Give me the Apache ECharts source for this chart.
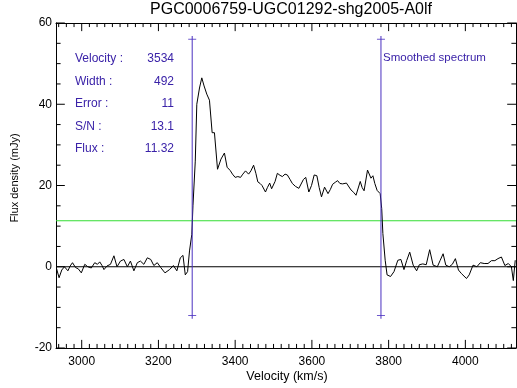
<!DOCTYPE html>
<html><head><meta charset="utf-8">
<script src="https://cdn.jsdelivr.net/npm/echarts@6/dist/echarts.min.js"></script>
<style>html,body{margin:0;padding:0;background:#fff}#c{width:517px;height:388px}</style>
</head><body><div id="c"></div>
<script>
const titleText = 'PGC0006759-UGC01292-shg2005-A0lf';
const xTitle = 'Velocity (km/s)';
const yTitle = 'Flux density (mJy)';
const velocity = [2934,2941,2948,2955,2964,2970,2976,2984,2991,2999,3008,3016,3025,3034,3041,3047,3053,3058,3066,3075,
3084,3092,3101,3110,3119,3127,3136,3145,3153,3162,3171,3180,3188,3197,3206,3217,3229,3239,3248,3257,
3264,3270,3276,3281,3287,3290,3296,3300,3307,3313,3319,3326,3333,3340,3346,3354,3363,3372,3379,3387,
3393,3400,3407,3414,3420,3427,3435,3441,3448,3454,3459,3465,3470,3479,3484,3490,3495,3499,3504,3510,
3517,3523,3530,3536,3543,3549,3557,3566,3571,3578,3584,3592,3599,3606,3613,3619,3625,3633,3642,3648,
3654,3661,3667,3673,3680,3690,3702,3709,3715,3726,3731,3736,3745,3754,3759,3764,3770,3778,3782,3785,
3791,3796,3805,3814,3824,3832,3840,3847,3855,3864,3873,3880,3889,3898,3907,3916,3927,3934,3942,3949,
3958,3966,3974,3982,3990,4003,4010,4020,4030,4039,4049,4059,4068,4077,4085,4094,4103,4112,4120,4125,4130];
const flux = [-0.3,-2.7,-0.8,0.0,-1.0,0.2,1.0,-0.2,-0.5,-1.5,0.6,0.0,-0.3,1.0,0.6,1.2,0.3,-0.7,0.2,0.6,
2.7,0.0,1.4,1.8,0.0,1.4,-1.0,1.0,1.4,0.6,2.2,1.8,0.3,1.0,-0.2,-1.5,-0.7,0.3,-1.0,2.2,
2.8,-2.0,-1.2,3.9,8.0,15.0,26.0,40.0,44.0,46.5,44.5,42.5,41.0,33.0,33.0,24.0,26.5,28.0,24.5,23.7,
22.8,22.0,22.2,22.0,22.8,23.6,22.8,23.6,25.0,23.0,20.9,20.5,20.0,18.4,19.5,20.6,19.2,18.8,21.0,23.0,
22.5,22.2,22.8,22.6,21.5,20.5,19.8,19.3,19.6,21.5,22.0,18.4,20.0,22.6,22.4,19.5,17.2,19.6,18.0,19.0,
20.3,20.8,21.2,20.5,20.4,20.6,18.9,18.3,17.6,21.0,19.5,18.7,23.8,21.8,22.4,20.5,18.8,18.0,14.3,8.2,
1.6,-2.0,-2.4,-1.2,1.6,1.8,-0.7,1.5,3.6,0.4,-1.0,0.5,0.7,0.5,4.2,0.4,0.0,1.5,3.2,0.4,
0.0,0.6,2.0,-0.8,-1.7,-2.9,-2.0,0.4,0.0,1.0,0.8,0.8,1.5,1.5,2.0,2.4,0.3,0.8,0.0,-3.4,1.6];
const xRange = [2933, 4132];
const xTickValues = [3000,3200,3400,3600,3800,4000];
const xMinorValues = [2940,2960,2980,3020,3040,3060,3080,3100,3120,3140,3160,3180,3220,3240,3260,3280,3300,3320,3340,3360,3380,
3420,3440,3460,3480,3500,3520,3540,3560,3580,3620,3640,3660,3680,3700,3720,3740,3760,3780,
3820,3840,3860,3880,3900,3920,3940,3960,3980,4020,4040,4060,4080,4100,4120];
const yRange = [-20, 60];
const yInterval = 20;
const yTickValues = [-20,0,20,40,60];
const yMinorValues = [-15,-10,-5,5,10,15,25,30,35,45,50,55];
const markerVelocities = [3288, 3780];
const markerBottom = -12;
const markerTop = 56;
const fluxLevel = 11.32;
const infoLabels = ['Velocity :','Width :','Error :','S/N :','Flux :'];
const infoValues = ['3534','492','11','13.1','11.32'];
const noteText = 'Smoothed spectrum';

const FONT = 'Liberation Sans';
const PURPLE = '#4a30c0';
const TEXTC = '#3a22a8';
const chart = echarts.init(document.getElementById('c'));

// tick lengths expressed along the perpendicular axis (style only)
const X_MAJOR_LEN = 2.0, X_MINOR_LEN = 1.0;     // in mJy units (~8px / ~4px)
const Y_MAJOR_LEN = 23, Y_MINOR_LEN = 12;       // in km/s units (~9px / ~5px)

function xTickData(values, len){
  const d = [];
  values.forEach(v=>{
    d.push([v, yRange[0]], [v, yRange[0]+len], '-');
    d.push([v, yRange[1]], [v, yRange[1]-len], '-');
  });
  return d;
}
function yTickData(values, len){
  const d = [];
  values.forEach(v=>{
    d.push([xRange[0], v], [xRange[0]+len, v], '-');
    d.push([xRange[1], v], [xRange[1]-len, v], '-');
  });
  return d;
}
function tickLine(data){
  return {type:'line', data:data, symbol:'none', connectNulls:false, clip:false,
    lineStyle:{color:'#000', width:1}, silent:true, z:6};
}

const xAxes = [
  {type:'value', position:'bottom', min:xRange[0], max:xRange[1],
   axisLine:{show:true, onZero:false, lineStyle:{color:'#000',width:1}}, axisTick:{show:false},
   axisLabel:{show:true, customValues:xTickValues, margin:8, color:'#000', fontFamily:FONT, fontSize:12, formatter:(v)=>String(v)},
   splitLine:{show:false}},
  {type:'value', position:'top', min:xRange[0], max:xRange[1],
   axisLine:{show:true, onZero:false, lineStyle:{color:'#000',width:1}}, axisTick:{show:false}, axisLabel:{show:false}, splitLine:{show:false}}
];
const yAxes = [
  {type:'value', position:'left', min:yRange[0], max:yRange[1], interval:yInterval,
   axisLine:{show:true, onZero:false, lineStyle:{color:'#000',width:1}}, axisTick:{show:false},
   axisLabel:{show:true, margin:4, color:'#000', fontFamily:FONT, fontSize:12}, splitLine:{show:false}},
  {type:'value', position:'right', min:yRange[0], max:yRange[1], interval:yInterval,
   axisLine:{show:true, onZero:false, lineStyle:{color:'#000',width:1}}, axisTick:{show:false}, axisLabel:{show:false}, splitLine:{show:false}}
];

const series = [
  {type:'line', data:[[xRange[0],0],[xRange[1],0]], symbol:'none', lineStyle:{color:'#000',width:1}, silent:true},
  {type:'line', data:[[xRange[0],fluxLevel],[xRange[1],fluxLevel]], symbol:'none', lineStyle:{color:'#33dd33',width:1}, silent:true},
  {type:'line', data:velocity.map((v,i)=>[v,flux[i]]), symbol:'none', lineStyle:{color:'#000',width:1}, silent:true},
  tickLine(xTickData(xTickValues, X_MAJOR_LEN)),
  tickLine(xTickData(xMinorValues, X_MINOR_LEN)),
  tickLine(yTickData(yTickValues, Y_MAJOR_LEN)),
  tickLine(yTickData(yMinorValues, Y_MINOR_LEN))
];
markerVelocities.forEach(v=>{
  series.push({type:'line', data:[[v,markerBottom-0.8],[v,markerTop+0.8]], symbol:'none', lineStyle:{color:PURPLE,width:1}, silent:true});
  series.push({type:'scatter', data:[[v,markerBottom],[v,markerTop]], symbol:'rect', symbolSize:[8,1], itemStyle:{color:PURPLE}, silent:true});
});

const graphic = [
  {type:'text', x:291, y:10, style:{text:titleText, fill:'#000', font:'16px "'+FONT+'"', textAlign:'center', textVerticalAlign:'middle'}},
  {type:'text', x:287, y:377, style:{text:xTitle, fill:'#000', font:'12.5px "'+FONT+'"', textAlign:'center', textVerticalAlign:'middle'}},
  {type:'text', x:15, y:178, rotation:Math.PI/2, style:{text:yTitle, fill:'#000', font:'11px "'+FONT+'"', textAlign:'center', textVerticalAlign:'middle'}},
  {type:'text', x:383, y:58, style:{text:noteText, fill:TEXTC, font:'11.5px "'+FONT+'"', textAlign:'left', textVerticalAlign:'middle'}}
];
infoLabels.forEach((t,i)=>{
  graphic.push({type:'text', x:75, y:59+22.4*i, style:{text:t, fill:TEXTC, font:'12px "'+FONT+'"', textAlign:'left', textVerticalAlign:'middle'}});
  graphic.push({type:'text', x:174, y:59+22.4*i, style:{text:infoValues[i], fill:TEXTC, font:'12px "'+FONT+'"', textAlign:'right', textVerticalAlign:'middle'}});
});

chart.setOption({
  animation:false,
  grid:{left:56, right:1, top:23, bottom:40},
  xAxis:xAxes,
  yAxis:yAxes,
  series:series,
  graphic:graphic
});
</script></body></html>
